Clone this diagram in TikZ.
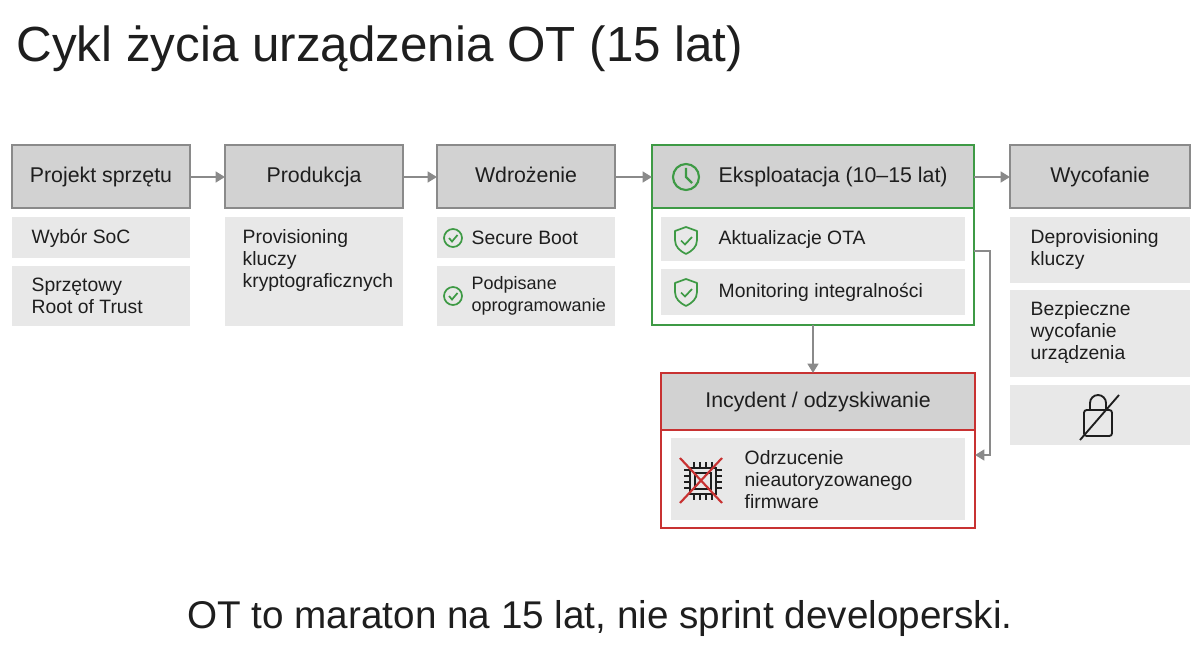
\documentclass[tikz,border=0pt]{standalone}
\usepackage{fontspec}
\setmainfont{Liberation Sans}
\usetikzlibrary{arrows.meta}
\definecolor{hdr}{HTML}{D2D2D2}
\definecolor{hdrb}{HTML}{8A8A8A}
\definecolor{sub}{HTML}{E8E8E8}
\definecolor{gr}{HTML}{3E9A45}
\definecolor{rd}{HTML}{C83232}
\definecolor{txt}{HTML}{1E1E1E}
\begin{document}
\begin{tikzpicture}[x=0.75pt,y=-0.75pt,
 hdrbox/.style={draw=hdrb,line width=2pt,fill=hdr},
 subbox/.style={fill=sub},
 ht/.style={font=\fontsize{16}{19}\selectfont,text=txt,text height=12pt,text depth=3.5pt},
 bt/.style={font=\fontsize{14.5}{16.5}\selectfont,text=txt,align=left,anchor=west},
 arr/.style={draw=hdrb,line width=2pt,-{Triangle[length=7pt,width=8pt]}},
 ok/.style={draw=gr,line width=1.3pt}]
\useasboundingbox (0,0) rectangle (1200,656);
\node[anchor=base west,font=\fontsize{37}{42}\selectfont,text=txt] (title) at (12,62) {Cykl życia urządzenia OT (15 lat)};
% headers
\draw[hdrbox] (12,145) rectangle (190,208); \node[ht] (h1) at (101,177) {Projekt sprzętu};
\draw[hdrbox] (225,145) rectangle (403,208); \node[ht] (h2) at (314,177) {Produkcja};
\draw[hdrbox] (437,145) rectangle (615,208); \node[ht] (h3) at (526,177) {Wdrożenie};
\draw[hdrbox] (1010,145) rectangle (1190,208); \node[ht] (h5) at (1100,177) {Wycofanie};
\fill[hdr] (652,145) rectangle (974,208);
\draw[gr,line width=2pt] (652,145) rectangle (974,325) (652,208) -- (974,208);
\node[ht,anchor=west] (h4) at (714,177) {Eksploatacja (10–15 lat)};
\draw[gr,line width=1.6pt] (686,177) circle (13) (686,168) -- (686,177) -- (692,183);
% sub boxes
\fill[subbox] (12,217) rectangle (190,258); \node[bt] (s11) at (27,238) {Wybór SoC};
\fill[subbox] (12,266) rectangle (190,326); \node[bt] (s12) at (27,296) {Sprzętowy\\Root of Trust};
\fill[subbox] (225,217) rectangle (403,326); \node[bt,anchor=north west] (s21) at (238,225) {Provisioning\\kluczy\\kryptograficznych};
\fill[subbox] (437,217) rectangle (615,258); \node[bt] (s31) at (467,238) {Secure Boot};
\fill[subbox] (437,266) rectangle (615,326); \node[bt,font=\fontsize{13.5}{16}\selectfont] (s32) at (467,296) {Podpisane\\oprogramowanie};
\foreach \y in {238,296}{\draw[ok] (453,\y) circle (9); \draw[ok] (449,\y) -- (452,\y+3.5) -- (457.5,\y-3);}
\fill[subbox] (661,217) rectangle (965,261); \node[bt] (s41) at (714,240) {Aktualizacje OTA};
\fill[subbox] (661,269) rectangle (965,315); \node[bt] (s42) at (714,292) {Monitoring integralności};
\foreach \y in {240,292}{\draw[ok,line join=round] (686,\y-13) -- (697,\y-9) -- (697,\y) .. controls (697,\y+7) and (692,\y+11) .. (686,\y+14) .. controls (680,\y+11) and (675,\y+7) .. (675,\y) -- (675,\y-9) -- cycle;
 \draw[ok] (681,\y+0.5) -- (685,\y+4.5) -- (692,\y-3);}
\fill[subbox] (1010,217) rectangle (1190,283); \node[bt] (s51) at (1026,250) {Deprovisioning\\kluczy};
\fill[subbox] (1010,290) rectangle (1190,377); \node[bt] (s52) at (1026,333) {Bezpieczne\\wycofanie\\urządzenia};
\fill[subbox] (1010,385) rectangle (1190,445);
\draw[txt,line width=1.4pt,rounded corners=2pt] (1084,410) rectangle (1112,436);
\draw[txt,line width=1.4pt] (1090,410) -- (1090,403) arc (180:360:8) -- (1106,410);
\draw[txt,line width=1.4pt] (1080,440) -- (1119,395);
% incident
\fill[hdr] (661,373) rectangle (975,430);
\draw[rd,line width=2pt] (661,373) rectangle (975,528) (661,430) -- (975,430);
\node[ht] (inc) at (818,402) {Incydent / odzyskiwanie};
\fill[subbox] (671,438) rectangle (965,520);
\node[bt] (s6) at (740,480) {Odrzucenie\\nieautoryzowanego\\firmware};
\draw[txt,line width=1.4pt] (690,468) rectangle (716,494) (695,473) rectangle (711,489);
\foreach \t in {694,700,706,712}{\draw[txt,line width=1.1pt] (\t,462) -- (\t,468) (\t,494) -- (\t,500) (684,\t-224) -- (690,\t-224) (716,\t-224) -- (722,\t-224);}
\draw[rd,line width=1.6pt] (680,458) -- (722,503) (722,458) -- (680,503);
% arrows
\draw[arr] (190,177) -- (225,177);
\draw[arr] (403,177) -- (437,177);
\draw[arr] (615,177) -- (652,177);
\draw[arr] (974,177) -- (1010,177);
\draw[arr] (813,325) -- (813,373);
\draw[arr] (974,251) -- (990,251) -- (990,455) -- (975,455);
\node[font=\fontsize{29}{33}\selectfont,text=txt] (foot) at (600,618) {OT to maraton na 15 lat, nie sprint developerski.};
\end{tikzpicture}
\end{document}
